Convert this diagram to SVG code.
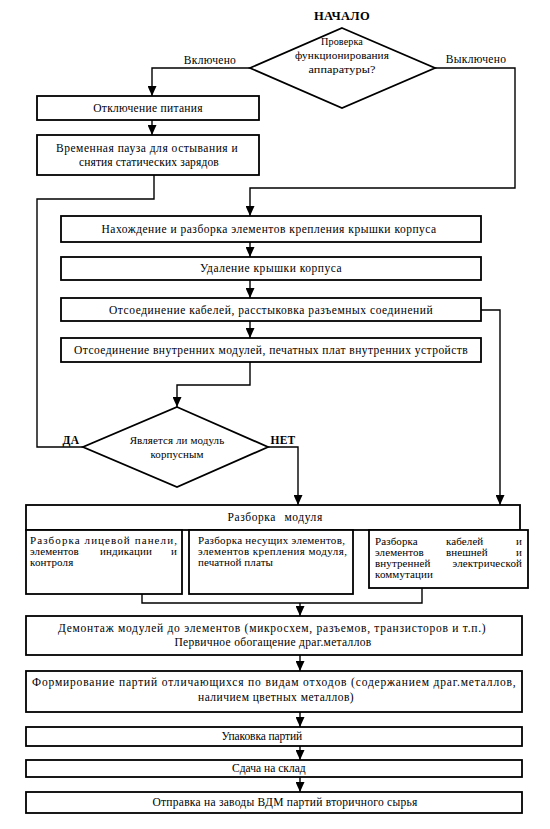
<svg xmlns="http://www.w3.org/2000/svg" width="550" height="829" viewBox="0 0 550 829">
<style>
.bg{fill:#fff}
.box{fill:#fff;stroke:#000;stroke-width:1.8}
.ln{fill:none;stroke:#000;stroke-width:1.4}
.t{font-family:'Liberation Serif','DejaVu Serif','Times New Roman',serif;font-size:11.5px;fill:#000;letter-spacing:0.3px}
.d{font-size:11px;letter-spacing:0.1px}
.s{font-size:11px;letter-spacing:0.1px}
.c{text-anchor:middle}
.e{text-anchor:end}
.b{font-weight:bold}
</style>
<defs>
<marker id="arr" viewBox="0 0 10 9" refX="10" refY="4.5" markerWidth="10" markerHeight="9" markerUnits="userSpaceOnUse" orient="auto">
<path d="M0,0 L10,4.5 L0,9 z" fill="#000"/>
</marker>
</defs>
<rect class="bg" x="0" y="0" width="550" height="829"/>

<g id="connectors">
<polyline class="ln" points="250,68 152,68 152,96" marker-end="url(#arr)"/>
<line class="ln" x1="152" y1="120" x2="152" y2="135" marker-end="url(#arr)"/>
<polyline class="ln" points="435,68 515,68 515,188 250,188 250,216" marker-end="url(#arr)"/>
<polyline class="ln" points="154,175 154,199 37,199 37,447 83,447"/>
<line class="ln" x1="250" y1="242" x2="250" y2="257" marker-end="url(#arr)"/>
<line class="ln" x1="250" y1="280" x2="250" y2="298" marker-end="url(#arr)"/>
<line class="ln" x1="250" y1="321" x2="250" y2="338" marker-end="url(#arr)"/>
<polyline class="ln" points="481,310 500,310 500,505" marker-end="url(#arr)"/>
<polyline class="ln" points="250,362 250,385 177,385 177,407" marker-end="url(#arr)"/>
<polyline class="ln" points="268,447 298,447 298,505" marker-end="url(#arr)"/>
<polyline class="ln" points="142,594 142,603 422,603 422,588"/>
<line class="ln" x1="300" y1="603" x2="300" y2="616" marker-end="url(#arr)"/>
<line class="ln" x1="300" y1="655" x2="300" y2="671" marker-end="url(#arr)"/>
<line class="ln" x1="300" y1="712" x2="300" y2="727" marker-end="url(#arr)"/>
<line class="ln" x1="300" y1="746" x2="300" y2="760" marker-end="url(#arr)"/>
<line class="ln" x1="300" y1="777" x2="300" y2="792" marker-end="url(#arr)"/>
<text class="t c" x="210" y="64">Включено</text>
<text class="t c" x="476" y="63">Выключено</text>
<text class="t c b" x="71" y="444">ДА</text>
<text class="t c b" x="283" y="444">НЕТ</text>
</g>

<g id="start">
<text class="t c b" x="342" y="20" style="font-size:12.5px">НАЧАЛО</text>
</g>

<g id="check">
<polygon class="box" points="342,28 435,68 342,108 250,68"/>
<text class="t d c" x="342" y="45" textLength="42" lengthAdjust="spacingAndGlyphs">Проверка</text>
<text class="t d c" x="342" y="59" textLength="94" lengthAdjust="spacingAndGlyphs">функционирования</text>
<text class="t d c" x="342" y="73" textLength="67" lengthAdjust="spacingAndGlyphs">аппаратуры?</text>
</g>

<g id="power-off">
<rect class="box" x="37" y="96" width="222" height="24"/>
<text class="t c" x="148" y="112">Отключение питания</text>
</g>

<g id="pause">
<rect class="box" x="37" y="135" width="222" height="40"/>
<text class="t c" x="147" y="152" textLength="182" lengthAdjust="spacing">Временная пауза для остывания и</text>
<text class="t c" x="149" y="166" textLength="140" lengthAdjust="spacing">снятия статических зарядов</text>
</g>

<g id="find-fasteners">
<rect class="box" x="61" y="216" width="420" height="26"/>
<text class="t c" x="269" y="233" textLength="335" lengthAdjust="spacing">Нахождение и разборка элементов крепления крышки корпуса</text>
</g>

<g id="remove-cover">
<rect class="box" x="61" y="257" width="420" height="23"/>
<text class="t c" x="271" y="272" textLength="142" lengthAdjust="spacing">Удаление крышки корпуса</text>
</g>

<g id="disconnect-cables">
<rect class="box" x="61" y="298" width="420" height="23"/>
<text class="t c" x="271" y="314" textLength="324" lengthAdjust="spacing">Отсоединение кабелей, расстыковка разъемных  соединений</text>
</g>

<g id="disconnect-modules">
<rect class="box" x="61" y="338" width="420" height="24"/>
<text class="t c" x="271" y="354" textLength="394" lengthAdjust="spacing">Отсоединение внутренних модулей, печатных плат внутренних устройств</text>
</g>

<g id="is-cased">
<polygon class="box" points="177,407 268,447 177,487 83,447"/>
<text class="t d c" x="177" y="444">Является ли модуль</text>
<text class="t d c" x="177" y="458">корпусным</text>
</g>

<g id="module-disassembly">
<rect class="box" x="26" y="505" width="494" height="25"/>
<text class="t c" x="275" y="521" textLength="95" lengthAdjust="spacing" style="word-spacing:5px">Разборка модуля</text>
</g>

<g id="front-panel">
<rect class="box" x="26" y="530" width="156" height="64"/>
<text class="t s" x="30" y="544" textLength="147" lengthAdjust="spacing">Разборка лицевой панели,</text>
<text class="t s" x="30" y="555">элементов</text>
<text class="t s" x="100" y="555">индикации</text>
<text class="t s e" x="177" y="555">и</text>
<text class="t s" x="30" y="566">контроля</text>
</g>

<g id="carrier">
<rect class="box" x="189" y="530" width="164" height="64"/>
<text class="t s" x="198" y="544" textLength="147" lengthAdjust="spacing">Разборка несущих элементов,</text>
<text class="t s" x="198" y="555" textLength="149" lengthAdjust="spacing">элементов крепления модуля,</text>
<text class="t s" x="198" y="566">печатной платы</text>
</g>

<g id="cables">
<rect class="box" x="369" y="530" width="159" height="58"/>
<text class="t s" x="375" y="545">Разборка</text>
<text class="t s" x="446" y="545">кабелей</text>
<text class="t s e" x="522" y="545">и</text>
<text class="t s" x="375" y="556">элементов</text>
<text class="t s" x="446" y="556">внешней</text>
<text class="t s e" x="522" y="556">и</text>
<text class="t s" x="375" y="567">внутренней</text>
<text class="t s e" x="522" y="567">электрической</text>
<text class="t s" x="375" y="578">коммутации</text>
</g>

<g id="demount">
<rect class="box" x="26" y="616" width="496" height="39"/>
<text class="t c" x="272" y="632" textLength="428" lengthAdjust="spacing">Демонтаж модулей до элементов (микросхем, разъемов, транзисторов и т.п.)</text>
<text class="t c" x="273" y="646" textLength="197" lengthAdjust="spacing">Первичное обогащение драг.металлов</text>
</g>

<g id="batches">
<rect class="box" x="26" y="671" width="496" height="41"/>
<text class="t c" x="274" y="686" textLength="484" lengthAdjust="spacing">Формирование партий отличающихся по видам отходов (содержанием драг.металлов,</text>
<text class="t c" x="276" y="701" textLength="156" lengthAdjust="spacing">наличием цветных металлов)</text>
</g>

<g id="pack">
<rect class="box" x="26" y="727" width="496" height="19"/>
<text class="t c" x="262" y="740" textLength="81" lengthAdjust="spacing">Упаковка партий</text>
</g>

<g id="store">
<rect class="box" x="26" y="760" width="496" height="17"/>
<text class="t c" x="269" y="772" textLength="74" lengthAdjust="spacing">Сдача на склад</text>
</g>

<g id="ship">
<rect class="box" x="26" y="792" width="496" height="21"/>
<text class="t c" x="285" y="806" textLength="265" lengthAdjust="spacing">Отправка на заводы ВДМ партий вторичного сырья</text>
</g>
</svg>
